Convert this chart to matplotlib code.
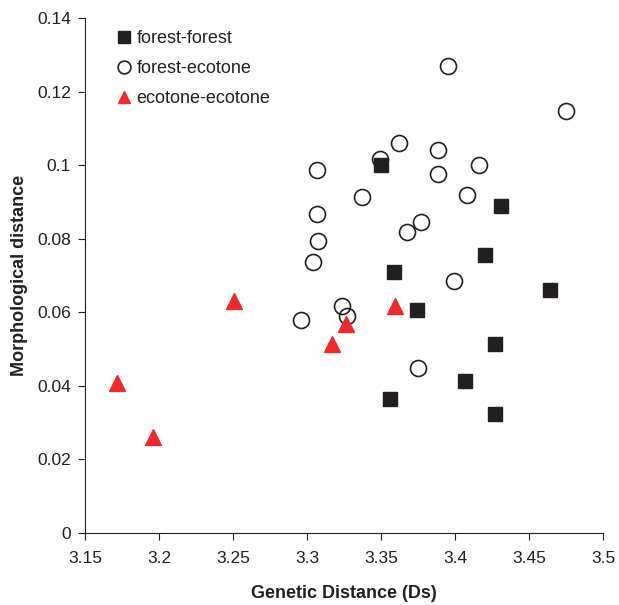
import matplotlib.pyplot as plt

plt.rcParams['font.family'] = ['Liberation Sans', 'DejaVu Sans']

# forest-forest
ff_x = [3.350, 3.431, 3.420, 3.359, 3.374, 3.464, 3.427, 3.407, 3.356, 3.427]
ff_y = [0.100, 0.089, 0.0756, 0.0710, 0.0606, 0.0660, 0.0514, 0.0414, 0.0364, 0.0323]

# forest-ecotone
fe_x = [3.3955, 3.4748, 3.362, 3.3493, 3.3887, 3.3065, 3.3887, 3.4164, 3.3372, 3.4079,
        3.3065, 3.3773, 3.3677, 3.3074, 3.3038, 3.399, 3.3236, 3.3268, 3.296, 3.3752]
fe_y = [0.1270, 0.1147, 0.1059, 0.1018, 0.1040, 0.0987, 0.0975, 0.1001, 0.0914, 0.0918,
        0.0868, 0.0845, 0.0817, 0.0795, 0.0736, 0.0686, 0.0618, 0.0591, 0.0580, 0.0449]

# ecotone-ecotone
ee_x = [3.3595, 3.3264, 3.3166, 3.2507, 3.1714, 3.1962]
ee_y = [0.0618, 0.0568, 0.0514, 0.0631, 0.0409, 0.0262]

xticks = [3.15, 3.2, 3.25, 3.3, 3.35, 3.4, 3.45, 3.5]
yticks = [0, 0.02, 0.04, 0.06, 0.08, 0.1, 0.12, 0.14]

fig = plt.figure(figsize=(6.19, 6.05), dpi=100)
ax = fig.add_axes([85/619, (605-533)/605, (603-85)/619, (533-18)/605])

ax.plot(ff_x, ff_y, 's', color='#231f20', markersize=10, label='forest-forest', zorder=2)
ax.plot(fe_x, fe_y, 'o', markerfacecolor='none', markeredgecolor='#231f20',
        markeredgewidth=1.2, markersize=11.5, label='forest-ecotone', zorder=3)
ax.plot(ee_x, ee_y, '^', color='#ee2a2e', markersize=11.5, label='ecotone-ecotone', zorder=4)

ax.set_xlim(3.15, 3.5)
ax.set_ylim(0, 0.14)
ax.set_xticks(xticks)
ax.set_xticklabels([f'{t:g}' for t in xticks])
ax.set_yticks(yticks)
ax.set_yticklabels([f'{t:g}' for t in yticks])
ax.tick_params(labelsize=12.5, direction='out', length=5, width=0.8, color='#231f20',
               labelcolor='#231f20')
ax.tick_params(axis='x', pad=8)
ax.tick_params(axis='y', pad=5)

for s in ['top', 'right']:
    ax.spines[s].set_visible(False)
for s in ['left', 'bottom']:
    ax.spines[s].set_linewidth(0.8)
    ax.spines[s].set_color('#231f20')

ax.set_xlabel('Genetic Distance (Ds)', fontsize=13, fontweight='bold', labelpad=14,
              color='#231f20')
ax.set_ylabel('Morphological distance', fontsize=13, fontweight='bold', labelpad=6.5,
              color='#231f20')

ax.legend(loc='upper left', bbox_to_anchor=(0.047, 0.99), frameon=False, fontsize=13,
          markerscale=0.8, handletextpad=0.3, handlelength=0.8, labelspacing=0.72,
          borderaxespad=0, labelcolor='#231f20')

fig.savefig('out.png', dpi=100)
